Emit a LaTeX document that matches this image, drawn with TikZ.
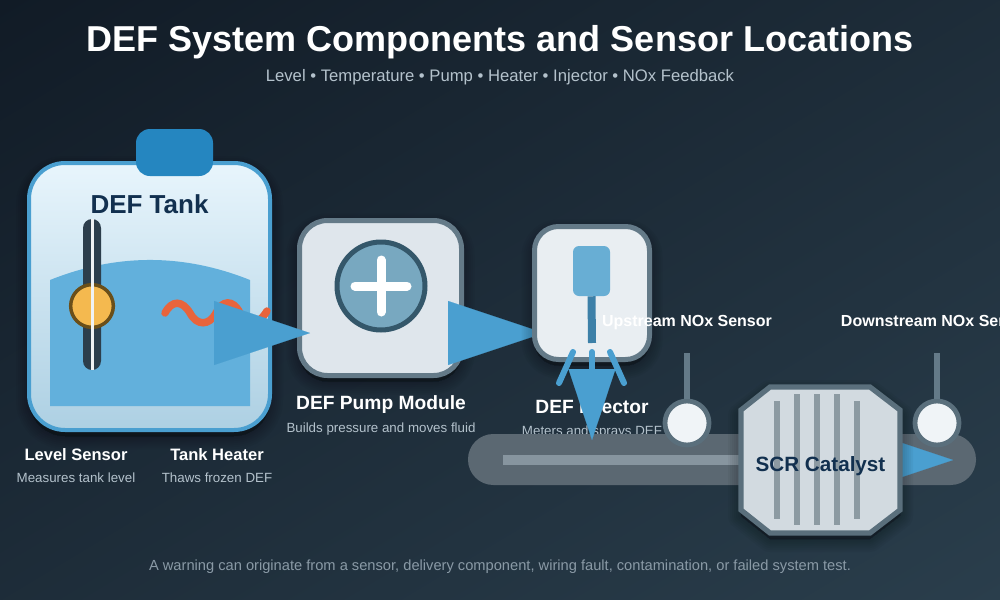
\documentclass[tikz,border=0pt]{standalone}
\usepackage{fontspec}
\setmainfont{Liberation Sans}
\usetikzlibrary{arrows.meta}
\definecolor{bgA}{HTML}{111B26}
\definecolor{bgB}{HTML}{1C2B38}
\definecolor{bgC}{HTML}{2A3E4C}
\definecolor{defblue}{HTML}{4A9FD0}
\definecolor{capblue}{HTML}{2586C0}
\definecolor{fluid}{HTML}{62B0DC}
\definecolor{navy}{HTML}{12304F}
\definecolor{steel}{HTML}{647A88}
\definecolor{pipe}{HTML}{5B6872}
\definecolor{pipecore}{HTML}{87959F}
\definecolor{rib}{HTML}{8C9AA2}
\definecolor{muted}{HTML}{B4C2CC}
\definecolor{foot}{HTML}{8A9AA6}
\definecolor{tanktop}{HTML}{E8F5FC}
\definecolor{tankbot}{HTML}{ADD0E3}
\definecolor{tube}{HTML}{2C3E4C}
\definecolor{floatfill}{HTML}{F4B94F}
\definecolor{floatedge}{HTML}{6A4F1A}
\definecolor{heater}{HTML}{E8643C}
\definecolor{pumpface}{HTML}{DFE6EC}
\definecolor{injface}{HTML}{E9EEF2}
\definecolor{rotorfill}{HTML}{78A8C0}
\definecolor{rotoredge}{HTML}{34576A}
\definecolor{nozzlefill}{HTML}{68AED4}
\definecolor{nozzlestem}{HTML}{3D80A8}
\definecolor{catface}{HTML}{D2DAE0}
\definecolor{catedge}{HTML}{5A6F7C}
\definecolor{sensorface}{HTML}{F0F4F7}
\newcommand{\softshadow}[1]{%
  \foreach \w in {2,6,10,14,18,22,26}{
    \draw[black,opacity=.035,line width=\w*0.75pt,line join=round,fill=black,yshift=-4.5pt] #1;
  }}
\tikzset{
  x=0.75pt,y=-0.75pt,
  txt/.style={inner sep=0,anchor=base},
  title/.style={txt,font=\bfseries\fontsize{27}{32}\selectfont,text=white},
  sub/.style={txt,font=\fontsize{12.5}{15}\selectfont,text=muted},
  partname/.style={txt,font=\bfseries\fontsize{14.4}{17}\selectfont,text=white},
  smallname/.style={txt,font=\bfseries\fontsize{12.4}{15}\selectfont,text=white},
  sensorname/.style={txt,font=\bfseries\fontsize{12}{14}\selectfont,text=white},
  note/.style={txt,font=\fontsize{10}{12}\selectfont,text=muted},
  box/.style={rectangle,inner sep=0,draw=steel,line width=3.75pt},
  flow/.style={draw=defblue,line width=0.1pt},
  sensorhead/.style={circle,inner sep=0,minimum size=33pt,draw=catedge,line width=3.6pt,fill=sensorface},
  stem/.style={draw=steel,line width=4.5pt},
  ribbar/.style={draw=rib,line width=4pt},
  spray/.style={draw=defblue,line width=4.5pt,line cap=round},
}
\begin{document}
\begin{tikzpicture}
\useasboundingbox (0,0) rectangle (1000,600);
\clip (0,0) rectangle (1000,600);
% backdrop: diagonal gradient corner to corner
\begin{scope}[transform canvas={shift={(500,300)},rotate=-59}]
  \shade[left color=bgA,middle color=bgB,right color=bgC] (-514.5,-900) rectangle (514.5,900);
\end{scope}

% headings
\node[title] (heading) at (500,51) {DEF System Components and Sensor Locations};
\node[sub] (subheading) at (500,81) {Level • Temperature • Pump • Heater • Injector • NOx Feedback};

% tank body
\softshadow{[rounded corners=27pt] (29,163) rectangle (270,430)}
\node[rectangle,inner sep=0,minimum width=180.75pt,minimum height=200.25pt,rounded corners=27pt,
      draw=defblue,line width=3pt,top color=tanktop,bottom color=tankbot] (tank) at (149.5,296.5) {};
\node[rectangle,inner sep=0,minimum width=57.75pt,minimum height=35.25pt,rounded corners=10.5pt,fill=capblue]
      (tankcap) at (174.5,152.5) {};
\node[txt,font=\bfseries\fontsize{19.5}{23}\selectfont,text=navy] (tanktitle) at (149.5,213) {DEF Tank};
% fluid volume
\fill[fluid] (50,280) .. controls (116.7,253.3) and (183.3,253.3) .. (250,280) -- (250,406) -- (50,406) -- cycle;
% level sensor
\fill[tube,rounded corners=6.75pt] (83,219) rectangle (101,370);
\node[circle,inner sep=0,minimum size=32pt,fill=floatfill,draw=floatedge,line width=2.6pt] (levelfloat) at (92,306) {};
\draw[white!90!steel,line width=2.25pt] (92,219) -- (92,370);
% heater element
\draw[draw=heater,line width=5.6pt,line cap=round]
  (165,313) .. controls (172,300) and (182,300) .. (190,313)
  .. controls (197,326) and (209,326) .. (216,313)
  .. controls (222,300) and (233,299) .. (240,313)
  .. controls (247,326) and (258,326) .. (267,311);
\node[smallname] (levelname) at (76,460) {Level Sensor};
\node[note] (levelnote) at (76,482) {Measures tank level};
\node[smallname] (heatername) at (217,460) {Tank Heater};
\node[note] (heaternote) at (217,482) {Thaws frozen DEF};

% pump module
\softshadow{[rounded corners=21pt] (299.5,220.5) rectangle (461.5,375.5)}
\node[box,minimum width=121.5pt,minimum height=116.25pt,rounded corners=21pt,fill=pumpface] (pump) at (380.5,298) {};
\node[circle,inner sep=0,minimum size=66pt,fill=rotorfill,draw=rotoredge,line width=3.75pt] (rotor) at (381,286) {};
\draw[white,line width=6.75pt,line cap=round] (355,286) -- (407,286);
\draw[white,line width=6.75pt,line cap=round] (381,260) -- (381,312);
\node[partname] (pumpname) at (381,409) {DEF Pump Module};
\node[note] (pumpnote) at (381,432) {Builds pressure and moves fluid};

% delivery connectors into pump and injector
\coordinate (tankport) at (240,333);
\coordinate (pumpinlet) at (310,333);
\coordinate (pumpport) at (470,333);
\coordinate (injectorinlet) at (544,333);
\draw[flow,-{Triangle[length=72pt,width=48pt,fill=defblue]}] (tankport) -- (pumpinlet);
\draw[flow,-{Triangle[length=72pt,width=48pt,fill=defblue]}] (pumpport) -- (injectorinlet);

% injector
\softshadow{[rounded corners=18pt] (534.5,226.5) rectangle (649.5,359.5)}
\node[box,minimum width=86.25pt,minimum height=99.75pt,rounded corners=18pt,fill=injface] (injector) at (592,293) {};
\node[rectangle,inner sep=0,minimum width=27.75pt,minimum height=37.5pt,rounded corners=4.5pt,fill=nozzlefill] (nozzle) at (591.5,271) {};
\coordinate (nozzletip) at (592,343);
\draw[draw=nozzlestem,line width=6pt] (nozzle.south) -- (nozzletip);
\node[partname] (injectorname) at (592,413) {DEF Injector};
\node[note] (injectornote) at (592,435) {Meters and sprays DEF};
% spray fan
\coordinate (sprayLa) at (573,352); \coordinate (sprayLb) at (559,383);
\coordinate (sprayCa) at (592,352); \coordinate (sprayCb) at (592,372);
\coordinate (sprayRa) at (610,352); \coordinate (sprayRb) at (624,383);
\draw[spray] (sprayLa) -- (sprayLb);
\draw[spray] (sprayCa) -- (sprayCb);
\draw[spray] (sprayRa) -- (sprayRb);

% exhaust pipe
\node[rectangle,inner sep=0,minimum width=381pt,minimum height=38.25pt,rounded corners=19pt,fill=pipe] (pipe) at (722,459.5) {};
\fill[pipecore] (503,455) rectangle (780,465);

% dosing connector and outlet connector
\coordinate (injectorport) at (592,380);
\coordinate (pipeinlet) at (592,440);
\draw[flow,-{Triangle[length=53.25pt,width=35.25pt,fill=defblue]}] (injectorport) -- (pipeinlet);
\coordinate (catalystport) at (905,460);
\coordinate (pipeoutlet) at (953,460);
\draw[flow,-{Triangle[length=43.5pt,width=29pt,fill=defblue]}] (catalystport) -- (pipeoutlet);

% NOx sensors
\coordinate (upmount) at (687,353);
\coordinate (downmount) at (937,353);
\node[sensorhead] (upsensor) at (687,423) {};
\node[sensorhead] (downsensor) at (937,423) {};
\draw[stem] (upmount) -- (upsensor.north);
\draw[stem] (downmount) -- (downsensor.north);

% SCR catalyst
\softshadow{(770,387) -- (870,387) -- (900,410) -- (900,510) -- (870,533) -- (770,533) -- (741,510) -- (741,410) -- cycle}
\draw[draw=catedge,line width=3.9pt,line join=miter,fill=catface]
  (770,387) -- (870,387) -- (900,410) -- (900,510) -- (870,533) -- (770,533) -- (741,510) -- (741,410) -- cycle;
\draw[ribbar] (777,401) -- (777,519);
\draw[ribbar] (797,394) -- (797,525);
\draw[ribbar] (817,394) -- (817,525);
\draw[ribbar] (837,394) -- (837,525);
\draw[ribbar] (857,401) -- (857,519);
\node[txt,font=\bfseries\fontsize{15.5}{18}\selectfont,text=navy] (catalyst) at (820.5,471) {SCR Catalyst};

% sensor captions
\node[sensorname] (upname) at (687,326) {Upstream NOx Sensor};
\node[sensorname] (downname) at (937,326) {Downstream NOx Sensor};

% footer
\node[txt,font=\fontsize{11}{13}\selectfont,text=foot] (footer) at (500,570)
  {A warning can originate from a sensor, delivery component, wiring fault, contamination, or failed system test.};
\end{tikzpicture}
\end{document}
